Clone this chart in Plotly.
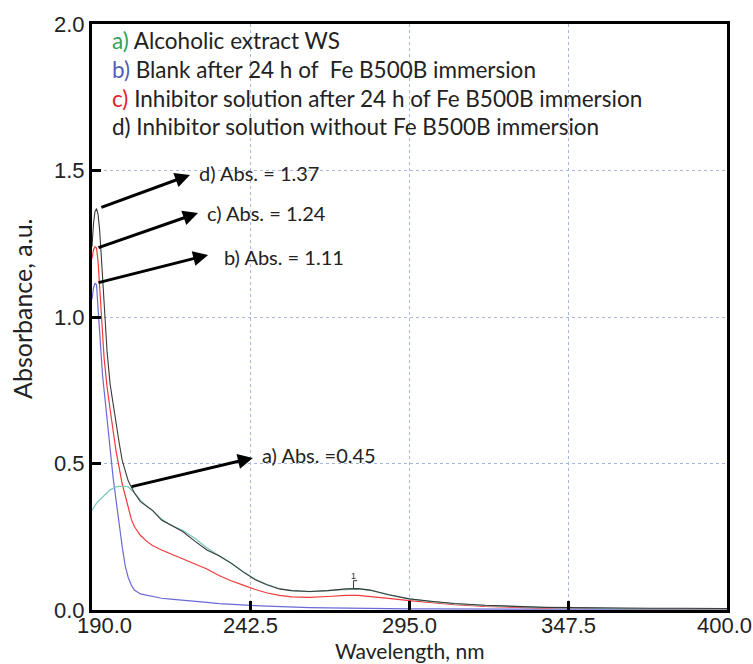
import plotly.graph_objects as go

wavelength = [190, 190.5, 191, 191.5, 192, 192.5, 193, 193.5, 194, 195, 196, 197, 198, 199, 200,
              201, 202, 203, 204, 206, 208, 210, 213, 216, 220, 224, 228, 232, 236, 240, 244, 248,
              252, 256, 262, 268, 274, 278, 282, 288, 295, 302, 310, 320, 330, 340, 347.5, 355,
              365, 375, 385, 400]

abs_a = [0.34, 0.35, 0.355, 0.365, 0.37, 0.375, 0.38, 0.385, 0.39, 0.40, 0.41, 0.415, 0.42, 0.422, 0.423,
         0.422, 0.42, 0.41, 0.40, 0.375, 0.355, 0.34, 0.31, 0.29, 0.272, 0.245, 0.212, 0.185, 0.16, 0.13,
         0.105, 0.087, 0.072, 0.066, 0.063, 0.066, 0.071, 0.072, 0.067, 0.052, 0.037, 0.029, 0.021,
         0.015, 0.011, 0.008, 0.008, 0.006, 0.005, 0.005, 0.004, 0.004]

abs_b = [1.06, 1.10, 1.115, 1.11, 1.03, 0.95, 0.87, 0.80, 0.75, 0.66, 0.55, 0.45, 0.37, 0.29, 0.215,
         0.15, 0.11, 0.085, 0.068, 0.055, 0.05, 0.045, 0.04, 0.037, 0.034, 0.03, 0.026, 0.022, 0.019,
         0.017, 0.015, 0.013, 0.011, 0.01, 0.008, 0.007, 0.006, 0.006, 0.005, 0.005, 0.004, 0.004,
         0.003, 0.003, 0.003, 0.003, 0.003, 0.003, 0.003, 0.003, 0.003, 0.003]

abs_c = [1.20, 1.23, 1.24, 1.235, 1.19, 1.10, 1.01, 0.93, 0.86, 0.76, 0.68, 0.61, 0.54, 0.48, 0.43,
         0.39, 0.35, 0.31, 0.285, 0.255, 0.235, 0.22, 0.205, 0.192, 0.175, 0.16, 0.14, 0.118, 0.10,
         0.085, 0.07, 0.058, 0.05, 0.045, 0.043, 0.046, 0.05, 0.05, 0.047, 0.04, 0.032, 0.025, 0.018,
         0.012, 0.008, 0.006, 0.009, 0.006, 0.005, 0.005, 0.005, 0.004]

abs_d = [1.24, 1.32, 1.36, 1.37, 1.35, 1.30, 1.22, 1.13, 1.05, 0.88, 0.77, 0.70, 0.64, 0.57, 0.51,
         0.47, 0.44, 0.42, 0.40, 0.37, 0.355, 0.34, 0.307, 0.29, 0.268, 0.235, 0.205, 0.185, 0.16,
         0.13, 0.103, 0.085, 0.072, 0.066, 0.063, 0.066, 0.072, 0.073, 0.068, 0.052, 0.038, 0.03,
         0.022, 0.016, 0.012, 0.009, 0.008, 0.007, 0.006, 0.006, 0.006, 0.005]

x_ticks = [190.0, 242.5, 295.0, 347.5, 400.0]
y_ticks = [0.0, 0.5, 1.0, 1.5, 2.0]

legend_labels = [("a)", "Alcoholic extract WS", "#2ea35a"),
                 ("b)", "Blank after 24 h of  Fe B500B immersion", "#4f5fb5"),
                 ("c)", "Inhibitor solution after 24 h of Fe B500B immersion", "#e3202c"),
                 ("d)", "Inhibitor solution without Fe B500B immersion", "#222222")]

# arrow annotations: (label, tail wl, tail abs, head wl, head abs, text wl, text abs)
arrow_notes = [("d) Abs. = 1.37", 192.6, 1.372, 222.4, 1.485, 224.7, 1.491),
               ("c) Abs. = 1.24", 191.65, 1.235, 225.05, 1.355, 227.4, 1.355),
               ("b) Abs. = 1.11", 191.65, 1.116, 228.4, 1.212, 233.0, 1.205),
               ("a) Abs. =0.45", 202.6, 0.42, 243.2, 0.519, 245.6, 0.529)]

peak_label_wl = 276.5
peak_label_abs = 0.075

fig = go.Figure()
fig.add_trace(go.Scatter(x=wavelength, y=abs_b, mode="lines", line=dict(color="#6a6ad6", width=1.2)))
fig.add_trace(go.Scatter(x=wavelength, y=abs_c, mode="lines", line=dict(color="#f23a3a", width=1.2)))
fig.add_trace(go.Scatter(x=wavelength, y=abs_a, mode="lines", line=dict(color="#7fcbbf", width=1.3)))
fig.add_trace(go.Scatter(x=wavelength, y=abs_d, mode="lines", line=dict(color="#3a3a3a", width=1.1)))

FONT = "Lato, 'Open Sans', sans-serif"
annotations = []
ann_font = dict(family=FONT, size=20, color="#222222")
leg_font = dict(family=FONT, size=22.5, color="#222222")

leg_y = [1.942, 1.845, 1.747, 1.650]
for (lt, txt, col), yy in zip(legend_labels, leg_y):
    annotations.append(dict(x=196.0, y=yy, xref="x", yref="y", xanchor="left", yanchor="middle",
                            showarrow=False, font=leg_font,
                            text=f"<span style='color:{col}'>{lt}</span> {txt}"))

for (lab, tx, ty, hx, hy, lx, ly) in arrow_notes:
    annotations.append(dict(x=hx, y=hy, ax=tx, ay=ty, xref="x", yref="y", axref="x", ayref="y",
                            text="", showarrow=True, arrowhead=2, arrowsize=1.0, arrowwidth=3,
                            arrowcolor="black"))
    annotations.append(dict(x=lx, y=ly, xref="x", yref="y", xanchor="left", yanchor="middle",
                            showarrow=False, text=lab, font=ann_font))

annotations.append(dict(x=peak_label_wl, y=peak_label_abs + 0.042, xref="x", yref="y",
                        showarrow=False, text="1", font=dict(family="Liberation Sans", size=9, color="#333")))

tick_font = dict(family="Liberation Sans, Arial, sans-serif", size=22, color="#222222")
# x tick labels (end ones shifted inward like the original)
for i, xv in enumerate(x_ticks):
    if i == 0:
        anchor, shift = "left", -16
    elif i == len(x_ticks) - 1:
        anchor, shift = "right", 26
    else:
        anchor, shift = "center", 0
    annotations.append(dict(x=xv, y=0, xref="x", yref="paper", xanchor=anchor, yanchor="top",
                            xshift=shift, yshift=-2, borderpad=0, showarrow=False,
                            text=f"{xv:.1f}", font=tick_font))

# axis titles
annotations.append(dict(x=0.5, y=0, xref="paper", yref="paper", xanchor="center", yanchor="bottom",
                        yshift=-54, borderpad=0, showarrow=False, text="Wavelength, nm",
                        font=dict(family=FONT, size=21, color="#222")))
annotations.append(dict(x=0, y=0.5, xref="paper", yref="paper", xanchor="center", yanchor="middle",
                        xshift=-70, yshift=8, textangle=-90, showarrow=False, text="Absorbance, a.u.",
                        font=dict(family=FONT, size=25, color="#222")))

shapes = [
    dict(type="line", xref="x", yref="y", x0=peak_label_wl, x1=peak_label_wl,
         y0=peak_label_abs, y1=peak_label_abs + 0.025, line=dict(color="#333", width=1)),
    dict(type="line", xref="x", yref="y", x0=peak_label_wl, x1=peak_label_wl + 1.2,
         y0=peak_label_abs + 0.025, y1=peak_label_abs + 0.025, line=dict(color="#333", width=1)),
]

grid_col = "#a9b6dc"
fig.update_layout(
    width=753, height=664,
    margin=dict(l=92, r=26, t=24, b=54),
    paper_bgcolor="white", plot_bgcolor="white",
    showlegend=False,
    annotations=annotations,
    shapes=shapes,
    xaxis=dict(range=[190, 400], tickvals=x_ticks, automargin=False,
               showticklabels=False,
               ticks="inside", ticklen=9, tickwidth=2.5, tickcolor="black",
               showline=True, linecolor="black", linewidth=3, mirror=True,
               showgrid=True, gridcolor=grid_col, gridwidth=1, griddash="dot",
               zeroline=False),
    yaxis=dict(range=[0, 2], tickvals=y_ticks, ticktext=[f"{v:.1f}" for v in y_ticks],
               automargin=False,
               tickfont=tick_font, ticks="inside", ticklen=9, tickwidth=2.5, tickcolor="black",
               showline=True, linecolor="black", linewidth=3, mirror=True,
               showgrid=True, gridcolor=grid_col, gridwidth=1, griddash="dot",
               zeroline=False),
)

fig.write_html("out.html")
